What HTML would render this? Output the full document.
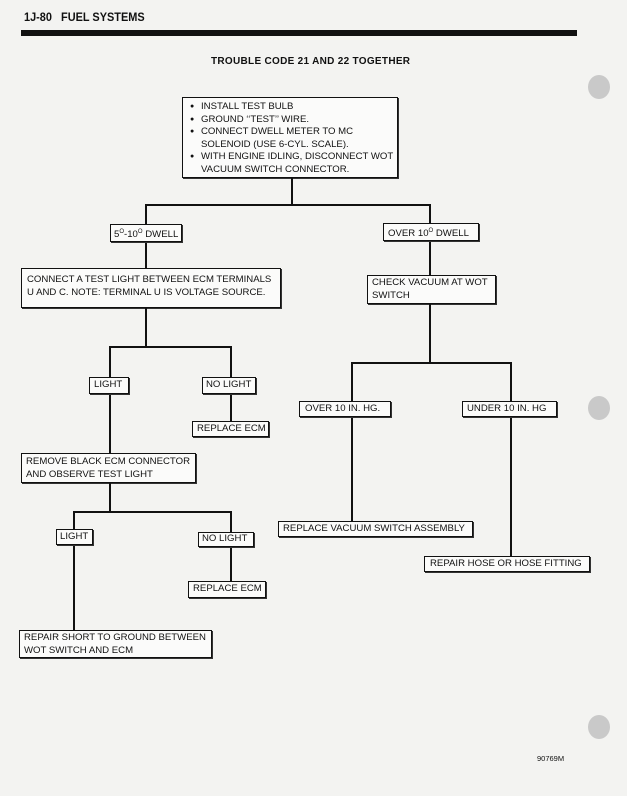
<!DOCTYPE html>
<html><head><style>
body{margin:0;background:#fff}
#p{position:relative;width:627px;height:796px;background:#f3f3f1;overflow:hidden;font-family:"Liberation Sans",Arial,sans-serif;color:#111}
.b{position:absolute;border:1.5px solid #111;background:#fbfbfa;box-sizing:border-box;font-size:9.6px;line-height:12.5px;padding:2px 4px;white-space:nowrap;box-shadow:1px 1px 0 #333}
.h{position:absolute;background:#111;height:1.5px}
.v{position:absolute;background:#111;width:1.5px}
.c{position:absolute;width:22px;height:24px;border-radius:50%;background:#c9c9c9}
ul{margin:0;padding:0 0 0 12px;list-style:none}
li{position:relative}
li:before{content:"●";position:absolute;left:-11px;font-size:7px}
</style></head><body><div id="p">
<div style="position:absolute;left:24px;top:12px;font-weight:bold;font-size:11.5px;transform:scaleX(.95);transform-origin:left">1J-80 &nbsp; FUEL SYSTEMS</div>
<div style="position:absolute;left:21px;top:30px;width:556px;height:6px;background:#111"></div>
<div style="position:absolute;left:211px;top:56px;font-weight:bold;font-size:10px;letter-spacing:0.3px">TROUBLE CODE 21 AND 22 TOGETHER</div>
<div class="c" style="left:588px;top:75px"></div>
<div class="c" style="left:588px;top:396px"></div>
<div class="c" style="left:588px;top:715px"></div>

<div class="b" style="left:182px;top:97px;width:216px;height:81px;padding:3px 4px 0 6px"><ul>
<li>INSTALL TEST BULB</li><li>GROUND ‘‘TEST’’ WIRE.</li><li>CONNECT DWELL METER TO MC<br>SOLENOID (USE 6-CYL. SCALE).</li><li>WITH ENGINE IDLING, DISCONNECT WOT<br>VACUUM SWITCH CONNECTOR.</li></ul></div>

<div class="v" style="left:291px;top:178px;height:28px"></div>
<div class="h" style="left:145px;top:204px;width:286px"></div>
<div class="v" style="left:145px;top:204px;height:64px"></div>
<div class="v" style="left:429px;top:204px;height:72px"></div>
<div class="b" style="left:110px;top:224px;width:72px;height:18px;padding:1px 3px">5<sup style="font-size:6px">O</sup>-10<sup style="font-size:6px">O</sup> DWELL</div>
<div class="b" style="left:383px;top:223px;width:96px;height:18px;padding:1px 4px">OVER 10<sup style="font-size:6px">O</sup> DWELL</div>

<div class="b" style="left:21px;top:268px;width:260px;height:40px;padding:5px 5px">CONNECT A TEST LIGHT BETWEEN ECM TERMINALS<br>U AND C. NOTE: TERMINAL U IS VOLTAGE SOURCE.</div>
<div class="b" style="left:367px;top:275px;width:129px;height:29px;padding:1px 4px">CHECK VACUUM AT WOT<br>SWITCH</div>

<div class="v" style="left:145px;top:308px;height:39px"></div>
<div class="h" style="left:109px;top:346px;width:122px"></div>
<div class="v" style="left:109px;top:346px;height:107px"></div>
<div class="v" style="left:230px;top:346px;height:75px"></div>
<div class="b" style="left:89px;top:377px;width:40px;height:17px;padding:1px 4px">LIGHT</div>
<div class="b" style="left:202px;top:377px;width:54px;height:17px;padding:1px 3px">NO LIGHT</div>
<div class="b" style="left:192px;top:421px;width:77px;height:16px;padding:1px 4px">REPLACE ECM</div>

<div class="b" style="left:21px;top:453px;width:175px;height:30px;padding:2px 4px">REMOVE BLACK ECM CONNECTOR<br>AND OBSERVE TEST LIGHT</div>
<div class="v" style="left:109px;top:483px;height:29px"></div>
<div class="h" style="left:73px;top:511px;width:158px"></div>
<div class="v" style="left:73px;top:511px;height:119px"></div>
<div class="v" style="left:230px;top:511px;height:70px"></div>
<div class="b" style="left:56px;top:529px;width:37px;height:16px;padding:1px 3px">LIGHT</div>
<div class="b" style="left:198px;top:532px;width:56px;height:15px;padding:0 3px">NO LIGHT</div>
<div class="b" style="left:188px;top:581px;width:78px;height:17px;padding:1px 4px">REPLACE ECM</div>
<div class="b" style="left:19px;top:630px;width:193px;height:28px;padding:1px 4px">REPAIR SHORT TO GROUND BETWEEN<br>WOT SWITCH AND ECM</div>

<div class="v" style="left:429px;top:304px;height:59px"></div>
<div class="h" style="left:351px;top:362px;width:160px"></div>
<div class="v" style="left:351px;top:362px;height:159px"></div>
<div class="v" style="left:510px;top:362px;height:194px"></div>
<div class="b" style="left:299px;top:401px;width:92px;height:16px;padding:1px 5px">OVER 10 IN. HG.</div>
<div class="b" style="left:462px;top:401px;width:95px;height:16px;padding:1px 4px">UNDER 10 IN. HG</div>
<div class="b" style="left:278px;top:521px;width:195px;height:16px;padding:1px 4px">REPLACE VACUUM SWITCH ASSEMBLY</div>
<div class="b" style="left:424px;top:556px;width:166px;height:16px;padding:1px 5px">REPAIR HOSE OR HOSE FITTING</div>

<div style="position:absolute;left:537px;top:754px;font-size:7.5px">90769M</div>
</div></body></html>
